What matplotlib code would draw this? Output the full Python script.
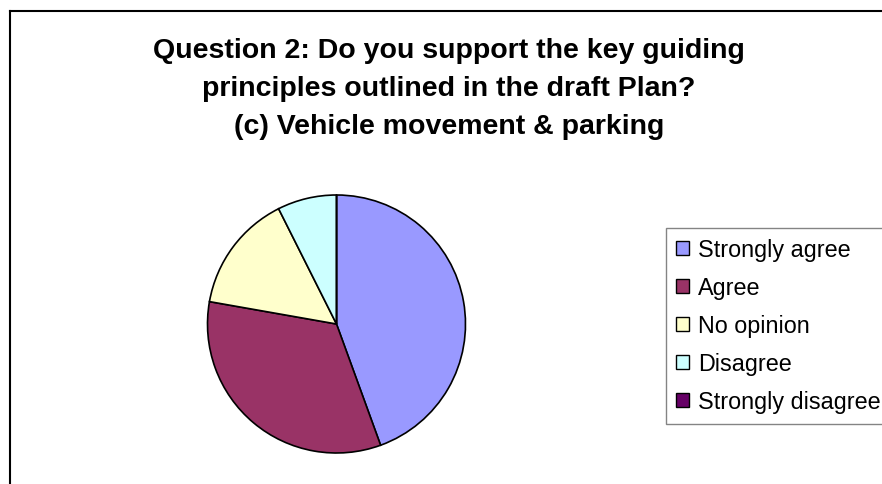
import matplotlib.pyplot as plt
from matplotlib.lines import Line2D

# Survey responses, question 2 (c)
labels = ['Strongly agree', 'Agree', 'No opinion', 'Disagree', 'Strongly disagree']
counts = [24, 18, 8, 4, 0]
colors = ['#9999FF', '#993366', '#FFFFCC', '#CCFFFF', '#660066']

title_lines = ['Question 2: Do you support the key guiding',
               'principles outlined in the draft Plan?',
               '(c) Vehicle movement & parking']

W, H = 882, 485
plt.rcParams['font.family'] = ['Liberation Sans', 'DejaVu Sans']

fig = plt.figure(figsize=(W / 100, H / 100), dpi=100)
fig.patch.set_facecolor('white')

# chart border (only left and top edges fall inside the image)
fig.add_artist(Line2D([10 / W, 10 / W], [0, 1 - 12 / H], color='black',
                      linewidth=1.5, transform=fig.transFigure))
fig.add_artist(Line2D([10 / W, 1], [1 - 12 / H, 1 - 12 / H], color='black',
                      linewidth=1.5, transform=fig.transFigure))

# title, one line at a time
baselines = [58, 96, 134]
for line, yb in zip(title_lines, baselines):
    fig.text(449 / W, 1 - yb / H, line, ha='center', va='baseline',
             fontsize=20.5, fontweight='bold')

# pie
cx, cy, r = 336.5, 325, 129
ax = fig.add_axes([(cx - r) / W, (H - cy - r) / H, 2 * r / W, 2 * r / H])
wedges, _ = ax.pie(counts, colors=colors, startangle=90, counterclock=False,
                   radius=1, wedgeprops=dict(edgecolor='black', linewidth=1.2))
ax.set_xlim(-1, 1)
ax.set_ylim(-1, 1)
ax.set_aspect('auto')
ax.axis('off')
for w in wedges:
    w.set_clip_on(False)

# legend
leg = fig.legend(wedges, labels, loc='upper left',
                 bbox_to_anchor=(665.5 / W, 1 - 229 / H),
                 fontsize=16.8, frameon=True, fancybox=False,
                 edgecolor='#666666', borderpad=0.45, borderaxespad=0,
                 handlelength=0.56, handleheight=0.56, handletextpad=0.4,
                 labelspacing=0.64)
leg.get_frame().set_linewidth(1.0)
for h in leg.legend_handles:
    h.set_edgecolor('black')
    h.set_linewidth(1.0)

fig.savefig('out.png', dpi=100)
